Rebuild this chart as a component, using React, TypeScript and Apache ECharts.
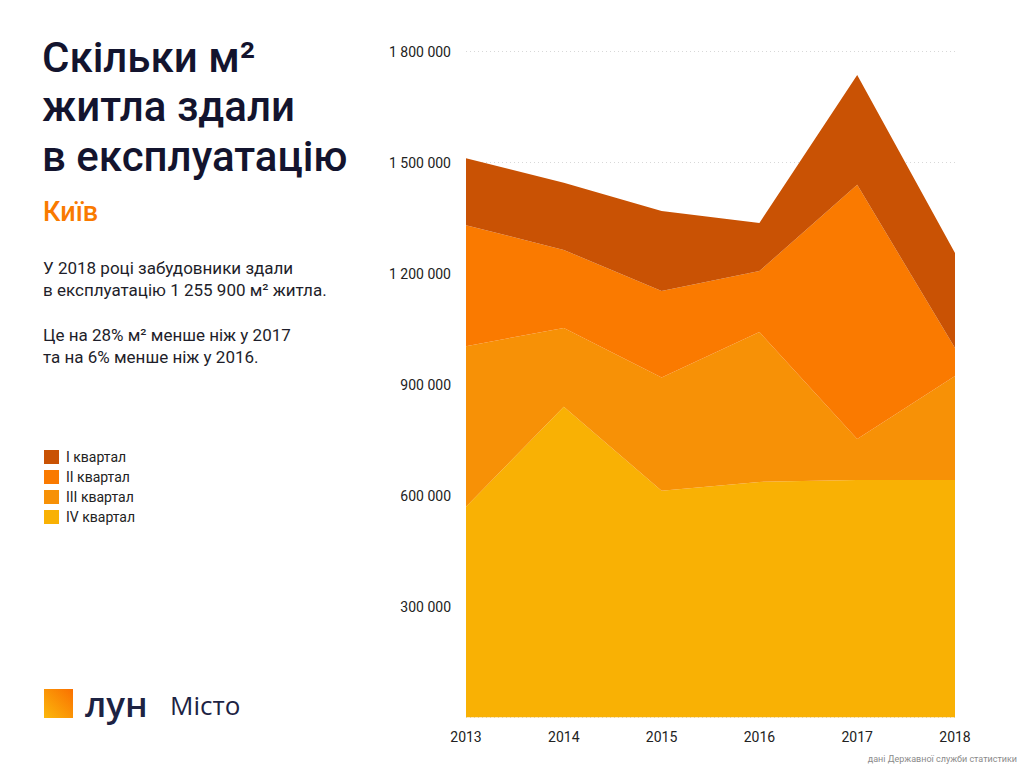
import React, { useEffect, useRef } from "react";
import * as echarts from "echarts";

const years = ["2013", "2014", "2015", "2016", "2017", "2018"];
const q4 = [570000, 840000, 613000, 637000, 642000, 642000];
const q3 = [434000, 213000, 306000, 405000, 111000, 281000];
const q2 = [327000, 211000, 234000, 165000, 687000, 76000];
const q1 = [181000, 182000, 216000, 130000, 297000, 256900];

const seriesNames = ["I квартал", "II квартал", "III квартал", "IV квартал"];
const colors = ["#C95204", "#FA7A00", "#F79106", "#F9B104"];

const titleLines = ["Скільки м²", "житла здали", "в експлуатацію"];
const subtitle = "Київ";
const bodyText =
  "У 2018 році забудовники здали\nв експлуатацію 1 255 900 м² житла.\n\nЦе на 28% м² менше ніж у 2017\nта на 6% менше ніж у 2016.";
const sourceText = "дані Державної служби статистики";

const FONT = "Roboto, 'Noto Sans', sans-serif";

function fmt(v: number): string {
  if (v === 0) return "";
  return String(v).replace(/\B(?=(\d{3})+(?!\d))/g, " ");
}

export default function App() {
  const ref = useRef<HTMLDivElement>(null);
  useEffect(() => {
    if (!ref.current) return;
    const chart = echarts.init(ref.current, undefined, { renderer: "svg" });
    const dataByName: Record<string, number[]> = {
      "I квартал": q1,
      "II квартал": q2,
      "III квартал": q3,
      "IV квартал": q4,
    };
    const stackOrder = ["IV квартал", "III квартал", "II квартал", "I квартал"];
    const series = stackOrder.map((name) => ({
      name,
      type: "line" as const,
      stack: "total",
      data: dataByName[name],
      symbol: "none",
      showSymbol: false,
      lineStyle: { width: 0 },
      areaStyle: { opacity: 1, color: colors[seriesNames.indexOf(name)] },
      itemStyle: { color: colors[seriesNames.indexOf(name)] },
      z: 2,
    }));

    const graphic: any[] = [];
    titleLines.forEach((t, i) => {
      graphic.push({
        type: "text",
        x: 42,
        y: 57 + i * 49.5,
        style: {
          text: t,
          fontSize: 42,
          fontWeight: 500,
          fontFamily: FONT,
          fill: "#13142E",
          textVerticalAlign: "middle",
        },
      });
    });
    graphic.push({
      type: "text",
      x: 43,
      y: 212,
      style: {
        text: subtitle,
        fontSize: 27,
        fontWeight: 500,
        fontFamily: FONT,
        fill: "#F97A00",
        textVerticalAlign: "middle",
      },
    });
    graphic.push({
      type: "text",
      x: 43,
      y: 257,
      style: {
        text: bodyText,
        fontSize: 17,
        lineHeight: 22.3,
        fontFamily: FONT,
        fill: "#1E1E2A",
        textVerticalAlign: "top",
      },
    });
    graphic.push({
      type: "rect",
      shape: { x: 44, y: 689, width: 29, height: 29 },
      style: {
        fill: {
          type: "linear",
          x: 0,
          y: 1,
          x2: 1,
          y2: 0,
          colorStops: [
            { offset: 0, color: "#FBB80C" },
            { offset: 1, color: "#FA7000" },
          ],
        },
      },
    });
    graphic.push({
      type: "text",
      x: 85,
      y: 703,
      style: {
        text: "лун",
        fontSize: 35,
        fontWeight: 600,
        fontFamily: "'Open Sans', Roboto, sans-serif",
        fill: "#1D2343",
        textVerticalAlign: "middle",
      },
    });
    graphic.push({
      type: "text",
      x: 170,
      y: 705,
      style: {
        text: "Місто",
        fontSize: 26,
        fontFamily: "'Open Sans', Roboto, sans-serif",
        fill: "#1D2343",
        textVerticalAlign: "middle",
      },
    });
    graphic.push({
      type: "text",
      x: 1017,
      y: 759,
      style: {
        text: sourceText,
        fontSize: 9,
        fontFamily: FONT,
        fill: "#8A8A8A",
        textAlign: "right",
        textVerticalAlign: "middle",
      },
    });

    chart.setOption({
      animation: false,
      backgroundColor: "#ffffff",
      grid: { left: 466, right: 69, top: 51.7, bottom: 50.5, containLabel: false },
      legend: {
        data: seriesNames,
        orient: "vertical",
        left: 44,
        top: 450,
        padding: 0,
        itemWidth: 15,
        itemHeight: 14,
        itemGap: 6,
        icon: "rect",
        textStyle: { fontSize: 14, color: "#222", fontFamily: FONT, padding: [0, 0, 0, 2] },
        selectedMode: false,
      },
      xAxis: {
        type: "category",
        data: years,
        boundaryGap: false,
        axisLine: { show: false },
        axisTick: { show: false },
        axisLabel: { fontSize: 14, color: "#222", fontFamily: FONT, margin: 12 },
        splitLine: { show: false },
      },
      yAxis: {
        type: "value",
        min: 0,
        max: 1800000,
        interval: 300000,
        axisLine: { show: false },
        axisTick: { show: false },
        axisLabel: {
          fontSize: 14,
          color: "#222",
          fontFamily: FONT,
          margin: 15,
          formatter: (v: number) => fmt(v),
        },
        splitLine: { show: true, lineStyle: { color: "#D8D8D8", type: [1, 3], width: 1 } },
        z: 0,
      },
      series,
      graphic,
    });
    return () => chart.dispose();
  }, []);
  return (
    <div
      ref={ref}
      style={{ position: "fixed", left: 0, top: 0, width: 1024, height: 768 }}
    />
  );
}
